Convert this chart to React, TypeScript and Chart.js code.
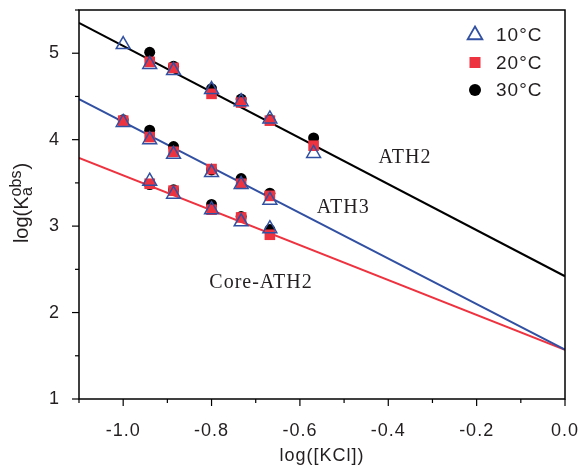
import React, { useEffect, useRef } from "react";
import { Chart, registerables } from "chart.js";

Chart.register(...registerables);

// ---- data ----
const xAth2 = [-1.0, -0.94, -0.886, -0.8, -0.733, -0.668, -0.569];
const ath2_10 = [5.10, 4.87, 4.80, 4.58, 4.44, 4.24, 3.84];
const xAth2b = [-0.94, -0.886, -0.8, -0.733, -0.668, -0.569];
const ath2_20 = [4.90, 4.83, 4.53, 4.43, 4.22, 3.93];
const ath2_30 = [5.01, 4.85, 4.59, 4.47, 4.23, 4.02];

const xAth3 = [-1.0, -0.94, -0.886, -0.8, -0.733, -0.668];
const ath3_10 = [4.20, 4.00, 3.83, 3.62, 3.48, 3.30];
const ath3_20 = [4.22, 4.03, 3.86, 3.66, 3.49, 3.35];
const ath3_30 = [4.23, 4.11, 3.92, 3.65, 3.55, 3.38];

const xCore = [-0.94, -0.886, -0.8, -0.733, -0.668];
const core_10 = [3.52, 3.37, 3.19, 3.05, 2.97];
const core_20 = [3.49, 3.41, 3.19, 3.10, 2.90];
const core_30 = [3.48, 3.42, 3.25, 3.11, 2.96];

const fitX = [-1.1, 0.0];
const fitAth2 = [5.35, 2.42];
const fitAth3 = [4.47, 1.57];
const fitCore = [3.79, 1.57];

const legendLabels = ["10°C", "20°C", "30°C"];
const seriesNames = ["ATH2", "ATH3", "Core-ATH2"];
const seriesLabelX = [-0.362, -0.502, -0.688];
const seriesLabelY = [3.79, 3.21, 2.35];

const xMin = -1.1, xMax = 0.0, yMin = 1, yMax = 5.5;
const xTitle = "log([KCl])";

const BLUE = "#3150a2";
const RED = "#ee3340";
const BLACK = "#000000";
const TEXT = "#231f20";
const SANS = '"Liberation Sans", Arial, sans-serif';

const pts = (xs: number[], ys: number[]) => xs.map((x, i) => ({ x, y: ys[i] }));

const tri = (data: any) => ({
  data, pointStyle: "triangle", pointRadius: 8, borderColor: BLUE, borderWidth: 1.5,
  backgroundColor: "rgba(0,0,0,0)", showLine: false, order: 0,
});
const sq = (data: any) => ({
  data, pointStyle: "rect", pointRadius: 7.5, borderWidth: 0, borderColor: RED,
  backgroundColor: RED, showLine: false, order: 1,
});
const circ = (data: any) => ({
  data, pointStyle: "circle", pointRadius: 5.5, borderWidth: 0, borderColor: BLACK,
  backgroundColor: BLACK, showLine: false, order: 2,
});
const fit = (ys: number[], color: string) => ({
  data: pts(fitX, ys), showLine: true, pointRadius: 0, borderColor: color,
  borderWidth: 2, order: 3, backgroundColor: color,
});

const decorPlugin = {
  id: "decor",
  beforeDraw(chart: any) {
    chart.ctx.letterSpacing = "1px";
  },
  afterDraw(chart: any) {
    const { ctx, chartArea: a, scales } = chart;
    ctx.save();
    // frame
    ctx.strokeStyle = "#000";
    ctx.lineWidth = 1.5;
    ctx.strokeRect(a.left, a.top, a.right - a.left, a.bottom - a.top);
    // x ticks
    const xs = scales.x;
    ctx.lineWidth = 1.2;
    xs.ticks.forEach((t: any) => {
      const k = Math.round(t.value * 10);
      const major = k % 2 === 0;
      const px = xs.getPixelForValue(t.value);
      ctx.beginPath();
      ctx.moveTo(px, a.bottom);
      ctx.lineTo(px, a.bottom + (major ? 7 : 4));
      ctx.stroke();
    });
    const ys = scales.y;
    ys.ticks.forEach((t: any) => {
      const major = Math.abs(t.value - Math.round(t.value)) < 1e-6;
      const py = ys.getPixelForValue(t.value);
      ctx.beginPath();
      ctx.moveTo(a.left, py);
      ctx.lineTo(a.left - (major ? 7 : 4), py);
      ctx.stroke();
    });

    // series annotations
    ctx.fillStyle = TEXT;
    ctx.letterSpacing = "1px";
    ctx.font = '20px "Liberation Serif", "Times New Roman", serif';
    ctx.textAlign = "center";
    ctx.textBaseline = "middle";
    seriesNames.forEach((n, i) => {
      ctx.fillText(n, xs.getPixelForValue(seriesLabelX[i]), ys.getPixelForValue(seriesLabelY[i]));
    });

    // legend
    const lx = 475, ly0 = 35, dy = 27.5;
    ctx.font = "19px " + SANS;
    ctx.textAlign = "left";
    legendLabels.forEach((lab, i) => {
      const y = ly0 + i * dy;
      if (i === 0) {
        const r = 8.5;
        ctx.beginPath();
        ctx.moveTo(lx, y - r);
        ctx.lineTo(lx + r * 0.866, y + r * 0.5);
        ctx.lineTo(lx - r * 0.866, y + r * 0.5);
        ctx.closePath();
        ctx.strokeStyle = BLUE;
        ctx.lineWidth = 1.8;
        ctx.stroke();
      } else if (i === 1) {
        ctx.fillStyle = RED;
        ctx.fillRect(lx - 5.5, y - 5.5, 11, 11);
      } else {
        ctx.fillStyle = BLACK;
        ctx.beginPath();
        ctx.arc(lx, y, 6, 0, Math.PI * 2);
        ctx.fill();
      }
      ctx.fillStyle = TEXT;
      ctx.fillText(lab, 496, y + 1);
    });

    // y title: log(K_a^obs)
    ctx.letterSpacing = "0px";
    ctx.translate(22, 203);
    ctx.rotate(-Math.PI / 2);
    const big = "20px " + SANS;
    const small = "16px " + SANS;
    ctx.font = big;
    const w1 = ctx.measureText("log(K").width;
    const w3 = ctx.measureText(")").width;
    ctx.font = small;
    const wSub = ctx.measureText("a").width;
    const wSup = ctx.measureText("obs").width;
    const total = w1 + Math.max(wSub, wSup) + 1 + w3;
    let x = -total / 2;
    ctx.textBaseline = "alphabetic";
    ctx.fillStyle = TEXT;
    ctx.font = big;
    ctx.fillText("log(K", x, 6);
    x += w1;
    ctx.font = small;
    ctx.fillText("a", x + 0.5, 10);
    ctx.fillText("obs", x, -1);
    x += Math.max(wSub, wSup) + 1;
    ctx.font = big;
    ctx.fillText(")", x, 6);
    ctx.restore();
    ctx.letterSpacing = "0px";
  },
};

export default function App() {
  const ref = useRef<HTMLCanvasElement>(null);
  useEffect(() => {
    document.body.style.margin = "0";
    const chart = new Chart(ref.current!, {
      type: "scatter",
      data: {
        datasets: [
          fit(fitAth2, BLACK),
          fit(fitAth3, BLUE),
          fit(fitCore, RED),
          tri(pts(xAth2, ath2_10)),
          sq(pts(xAth2b, ath2_20)),
          circ(pts(xAth2b, ath2_30)),
          tri(pts(xAth3, ath3_10)),
          sq(pts(xAth3, ath3_20)),
          circ(pts(xAth3, ath3_30)),
          tri(pts(xCore, core_10)),
          sq(pts(xCore, core_20)),
          circ(pts(xCore, core_30)),
        ] as any,
      },
      options: {
        responsive: false,
        animation: false,
        events: [],
        layout: { padding: { top: 10, right: 15, left: 0, bottom: 0 } },
        plugins: { legend: { display: false }, tooltip: { enabled: false } },
        scales: {
          x: {
            type: "linear",
            min: xMin,
            max: xMax,
            afterFit: (s: any) => {
              s.height = 66;
              s.paddingLeft = 0; s.paddingRight = 0; s.paddingTop = 0; s.paddingBottom = 0;
            },
            grid: { display: false, drawTicks: false },
            border: { display: false },
            ticks: {
              stepSize: 0.1,
              autoSkip: false,
              maxRotation: 0,
              padding: 21,
              color: TEXT,
              font: { family: SANS, size: 18 },
              callback: (v: any) => {
                const k = Math.round(Number(v) * 10);
                if (k % 2 !== 0 || k < -10) return "";
                return (k / 10).toFixed(1);
              },
            },
            title: {
              display: true,
              text: xTitle,
              color: TEXT,
              font: { family: SANS, size: 18, lineHeight: 1 },
              padding: 0,
            },
          },
          y: {
            type: "linear",
            min: yMin,
            max: yMax,
            afterFit: (s: any) => {
              s.width = 79;
              s.paddingLeft = 0; s.paddingRight = 0; s.paddingTop = 0; s.paddingBottom = 0;
            },
            grid: { display: false, drawTicks: false },
            border: { display: false },
            ticks: {
              stepSize: 0.5,
              autoSkip: false,
              padding: 19,
              color: TEXT,
              font: { family: SANS, size: 18 },
              callback: (v: any) => {
                const n = Number(v);
                return Math.abs(n - Math.round(n)) < 1e-6 ? String(Math.round(n)) : "";
              },
            },
          },
        },
      },
      plugins: [decorPlugin],
    });
    return () => chart.destroy();
  }, []);
  return <canvas ref={ref} width={580} height={465} style={{ display: "block" }} />;
}
